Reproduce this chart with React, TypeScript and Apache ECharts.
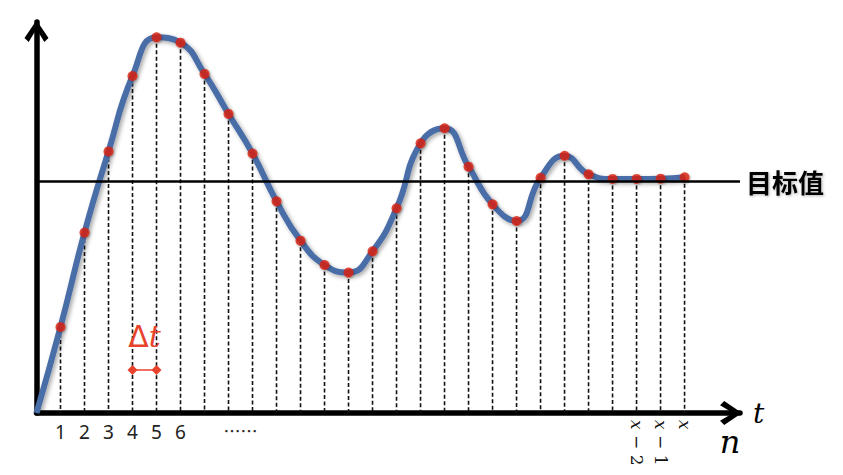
import React, { useEffect, useRef } from 'react';
import * as echarts from 'echarts';

// ---- data ----
const startPoint: [number, number] = [0, 0];
const sampleIndex = [1, 2, 3, 4, 5, 6, 7, 8, 9, 10, 11, 12, 13, 14, 15, 16, 17, 18, 19, 20, 21, 22, 23, 24, 25, 26, 27];
const sampleValues = [
  0.372, 0.78, 1.131, 1.457, 1.624, 1.601, 1.466, 1.293, 1.122, 0.915, 0.745, 0.64, 0.607, 0.699,
  0.885, 1.166, 1.231, 1.065, 0.902, 0.83, 1.017, 1.112, 1.032, 1.012, 1.012, 1.013, 1.019,
];
const targetValue = 1;
const targetLabel = '目标值';
const bottomTickValues = [1, 2, 3, 4, 5, 6, 8.5];
const bottomTickTexts = ['1', '2', '3', '4', '5', '6', '……'];
const endTickValues = [25, 26, 27];
const endTickOffsets = ['2', '1', ''];
const deltaStart = 4;
const deltaEnd = 5;
const deltaLevel = 0.186;
const xAxisName = 't';
const indexName = 'n';
const xMax = 29.31;
const yMax = 1.69;

const chevron = 'path://M11.5 0 L23 17 L19 21 L11.5 8.5 L4 21 L0 17 Z';

export default function App() {
  const ref = useRef<HTMLDivElement>(null);
  useEffect(() => {
    if (!ref.current) return;
    const chart = echarts.init(ref.current, null, { renderer: 'svg' });
    const points = sampleIndex.map((n, i) => [n, sampleValues[i]]);
    const axisLineStyle = { color: '#000', width: 5.5 };
    const option: any = {
      animation: false,
      grid: { left: 36.5, right: 103, top: 22.1, bottom: 62, containLabel: false },
      xAxis: [
        {
          type: 'value',
          min: 0,
          max: xMax,
          interval: 0.5,
          position: 'bottom',
          name: xAxisName,
          nameLocation: 'end',
          nameGap: 13,
          nameTextStyle: {
            fontFamily: 'DejaVu Serif',
            fontStyle: 'italic',
            fontSize: 28,
            color: '#000',
            verticalAlign: 'middle',
          },
          axisLine: {
            show: true,
            symbol: ['none', chevron],
            symbolSize: [24, 22],
            symbolOffset: [0, -9],
            lineStyle: axisLineStyle,
          },
          axisTick: { show: false },
          splitLine: { show: false },
          axisLabel: {
            show: true,
            margin: 9,
            fontSize: 19,
            fontFamily: 'Noto Sans',
            color: '#222',
            showMinLabel: true,
            showMaxLabel: true,
            formatter: (v: number) => {
              const k = bottomTickValues.indexOf(v);
              if (k < 0) return '';
              const s = bottomTickTexts[k];
              return /^\d+$/.test(s) ? s : '{e|' + s + '}';
            },
            rich: {
              e: { fontFamily: 'Noto Sans CJK SC', fontSize: 17, color: '#222' },
            },
          },
        },
        {
          type: 'value',
          min: 0,
          max: xMax,
          interval: 1,
          position: 'bottom',
          axisLine: { show: false },
          axisTick: { show: false },
          splitLine: { show: false },
          axisLabel: {
            show: true,
            rotate: -90,
            margin: 7,
            color: '#111',
            formatter: (v: number) => {
              const k = endTickValues.indexOf(v);
              if (k < 0) return '';
              return endTickOffsets[k] ? '{i|x}{n| − ' + endTickOffsets[k] + '}' : '{i|x}';
            },
            rich: {
              i: { fontFamily: 'DejaVu Serif', fontStyle: 'italic', fontSize: 17, color: '#111' },
              n: { fontFamily: 'DejaVu Serif', fontSize: 17, color: '#111' },
            },
          },
        },
      ],
      yAxis: {
        type: 'value',
        min: 0,
        max: yMax,
        axisLine: {
          show: true,
          symbol: ['none', chevron],
          symbolSize: [24, 22],
          symbolOffset: [0, -9],
          lineStyle: axisLineStyle,
        },
        axisTick: { show: false },
        axisLabel: { show: false },
        splitLine: { show: false },
      },
      graphic: [
        {
          type: 'text',
          x: 730,
          y: 442,
          style: {
            text: indexName,
            fontFamily: 'DejaVu Serif',
            fontStyle: 'italic',
            fontSize: 32,
            fill: '#000',
            align: 'center',
            verticalAlign: 'middle',
          },
        },
      ],
      series: [
        {
          type: 'custom',
          xAxisIndex: 0,
          yAxisIndex: 0,
          silent: true,
          z: 1,
          data: points,
          renderItem: (params: any, api: any) => {
            const top = api.coord([api.value(0), api.value(1)]);
            const bottom = api.coord([api.value(0), 0]);
            return {
              type: 'line',
              shape: { x1: top[0], y1: top[1], x2: bottom[0], y2: bottom[1] },
              style: { stroke: '#111', lineWidth: 1.6, lineDash: [4, 2.5] },
            };
          },
        },
        {
          type: 'line',
          data: [],
          z: 2,
          silent: true,
          markLine: {
            silent: true,
            symbol: 'none',
            lineStyle: { color: '#000', width: 2.5, type: 'solid' },
            label: {
              show: true,
              position: 'end',
              distance: 6,
              formatter: targetLabel,
              fontFamily: 'Noto Sans CJK SC',
              fontWeight: 'bold',
              fontSize: 26,
              color: '#000',
              textShadowColor: 'rgba(0,0,0,0.3)',
              textShadowBlur: 3,
              textShadowOffsetX: 1,
              textShadowOffsetY: 1,
            },
            data: [{ yAxis: targetValue }],
          },
        },
        {
          type: 'line',
          data: [startPoint, ...points],
          smooth: 0.5,
          showSymbol: false,
          z: 3,
          silent: true,
          lineStyle: {
            color: '#4A6DA7',
            width: 6,
            shadowColor: 'rgba(0,0,0,0.35)',
            shadowBlur: 4,
            shadowOffsetX: 2,
            shadowOffsetY: 2,
          },
        },
        {
          type: 'scatter',
          data: points,
          symbolSize: 10,
          z: 4,
          silent: true,
          itemStyle: {
            color: '#DC1F0E',
            shadowColor: 'rgba(0,0,0,0.35)',
            shadowBlur: 2,
            shadowOffsetX: 1,
            shadowOffsetY: 1,
          },
          markLine: {
            silent: true,
            symbol: ['diamond', 'diamond'],
            symbolSize: 10,
            lineStyle: { color: '#E8432C', width: 1.5, type: 'solid' },
            label: {
              show: true,
              position: 'middle',
              distance: 18,
              formatter: '{d|Δ}{t|t}',
              rich: {
                d: { fontFamily: 'DejaVu Sans', fontSize: 30, color: '#E8432C' },
                t: { fontFamily: 'DejaVu Serif', fontStyle: 'italic', fontSize: 30, color: '#E8432C' },
              },
            },
            data: [[{ coord: [deltaStart, deltaLevel] }, { coord: [deltaEnd, deltaLevel] }]],
          },
        },
      ],
    };
    chart.setOption(option);
    return () => chart.dispose();
  }, []);
  return (
    <div
      ref={ref}
      style={{ position: 'fixed', left: 0, top: 0, width: 843, height: 475, background: '#fff' }}
    />
  );
}
